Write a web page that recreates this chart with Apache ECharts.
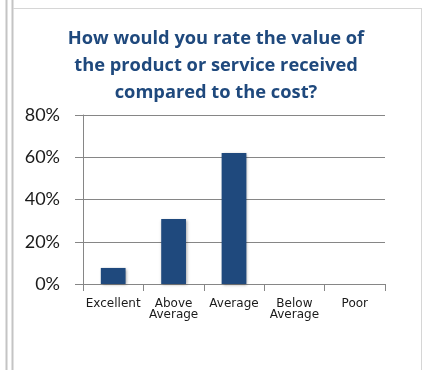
<!DOCTYPE html>
<html>
<head>
<meta charset="utf-8">
<script src="https://cdn.jsdelivr.net/npm/echarts@6/dist/echarts.min.js"></script>
<style>
  html, body { margin: 0; padding: 0; background: #fff; }
  #chart { width: 422px; height: 370px; }
</style>
</head>
<body>
<div id="chart"></div>
<script>
// Survey answers and share of respondents (percent)
const categories = ['Excellent', 'Above\nAverage', 'Average', 'Below\nAverage', 'Poor'];
const shares = [7.6, 30.8, 62, 0, 0];
const yTicks = { min: 0, max: 80, step: 20 };
const titleText = 'How would you rate the value of\nthe product or service received\ncompared to the cost?';

const chart = echarts.init(document.getElementById('chart'), null, { renderer: 'canvas' });

chart.setOption({
  backgroundColor: '#ffffff',
  animation: false,
  title: {
    text: titleText,
    left: 211,
    top: 20,
    textAlign: 'center',
    textStyle: {
      fontFamily: 'Open Sans',
      fontWeight: 'bold',
      fontSize: 18.3,
      lineHeight: 27,
      color: '#1F497D'
    }
  },
  grid: { left: 83, right: 37, top: 115, bottom: 86, containLabel: false },
  xAxis: {
    type: 'category',
    data: categories,
    axisLine: { lineStyle: { color: '#868686', width: 1 } },
    axisTick: { show: true, length: 7, alignWithLabel: false, lineStyle: { color: '#868686' } },
    axisLabel: {
      interval: 0,
      margin: 14,
      fontFamily: 'DejaVu Sans',
      fontSize: 12,
      lineHeight: 11,
      color: '#1a1a1a'
    }
  },
  yAxis: {
    type: 'value',
    min: yTicks.min,
    max: yTicks.max,
    interval: yTicks.step,
    axisLine: { show: true, lineStyle: { color: '#868686', width: 1 } },
    axisTick: { show: true, length: 8, lineStyle: { color: '#868686' } },
    splitLine: { lineStyle: { color: '#868686', width: 1 } },
    axisLabel: {
      formatter: '{value}%',
      margin: 23,
      fontFamily: 'Lato',
      fontSize: 18,
      color: '#1a1a1a'
    }
  },
  series: [{
    type: 'bar',
    data: shares,
    barWidth: '41%',
    itemStyle: {
      color: '#1F497D',
      shadowColor: 'rgba(0,0,0,0.35)',
      shadowBlur: 3,
      shadowOffsetX: 1,
      shadowOffsetY: 1
    }
  }],
  graphic: [
    { type: 'line', silent: true, shape: { x1: 6.5, y1: 0, x2: 6.5, y2: 370 }, style: { stroke: '#c4c4c4', lineWidth: 2 } },
    { type: 'line', silent: true, shape: { x1: 12.5, y1: 0, x2: 12.5, y2: 370 }, style: { stroke: '#c4c4c4', lineWidth: 2 } },
    { type: 'line', silent: true, shape: { x1: 13, y1: 8.5, x2: 421, y2: 8.5 }, style: { stroke: '#d6d6d6', lineWidth: 1 } },
    { type: 'line', silent: true, shape: { x1: 421.5, y1: 8, x2: 421.5, y2: 370 }, style: { stroke: '#d6d6d6', lineWidth: 1 } }
  ]
});
</script>
</body>
</html>
